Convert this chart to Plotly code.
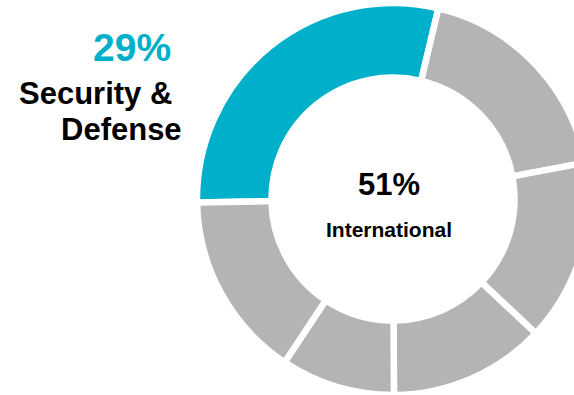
import plotly.graph_objects as go

# Revenue split by segment (percent); first slice is the highlighted segment
segments = ["Security & Defense", "Segment B", "Segment C", "Segment D", "Segment E", "Segment F"]
shares = [29, 18.3, 15.0, 12.9, 9.4, 15.4]
highlight_label = "29%"
highlight_name = ["Security &", "Defense"]
center_value = "51%"
center_label = "International"

TEAL = "#00B0CA"
GRAY = "#B4B4B4"
FONT = "Liberation Sans, Arial, sans-serif"

W, H = 600, 395  # canvas slightly wider than the view so the ring runs off the right edge

colors = [TEAL] + [GRAY] * (len(shares) - 1)

# ring geometry in pixels
cx, cy, r = 393, 199, 196


def px(x):
    return x / W


def py(y):
    return 1 - y / H


fig = go.Figure(
    go.Pie(
        labels=segments,
        values=shares,
        sort=False,
        direction="clockwise",
        rotation=269,
        hole=0.62,
        marker=dict(colors=colors, line=dict(color="white", width=6.5)),
        textinfo="none",
        hoverinfo="skip",
        showlegend=False,
        domain=dict(x=[px(cx - r), px(cx + r)], y=[py(cy + r) if cy + r <= H else 0, py(cy - r)]),
    )
)

annotations = [
    dict(text=f"<b>{highlight_label}</b>", x=px(173), y=py(48), xanchor="right", yanchor="middle",
         font=dict(size=39, color=TEAL, family=FONT)),
    dict(text=f"<b>{highlight_name[0]}</b>", x=px(174), y=py(94), xanchor="right", yanchor="middle",
         font=dict(size=31, color="black", family=FONT)),
    dict(text=f"<b>{highlight_name[1]}</b>", x=px(184), y=py(129), xanchor="right", yanchor="middle",
         font=dict(size=31, color="black", family=FONT)),
    dict(text=f"<b>{center_value}</b>", x=px(389), y=py(184), xanchor="center", yanchor="middle",
         font=dict(size=31, color="black", family=FONT)),
    dict(text=f"<b>{center_label}</b>", x=px(389), y=py(229.5), xanchor="center", yanchor="middle",
         font=dict(size=21, color="black", family=FONT)),
]
for a in annotations:
    a.update(xref="paper", yref="paper", showarrow=False)

fig.update_layout(
    width=W,
    height=H,
    margin=dict(l=0, r=0, t=0, b=0),
    paper_bgcolor="white",
    plot_bgcolor="white",
    annotations=annotations,
)

fig.write_html(
    "out.html",
    post_script="document.documentElement.style.overflow='hidden'; document.body.style.overflow='hidden';",
)
